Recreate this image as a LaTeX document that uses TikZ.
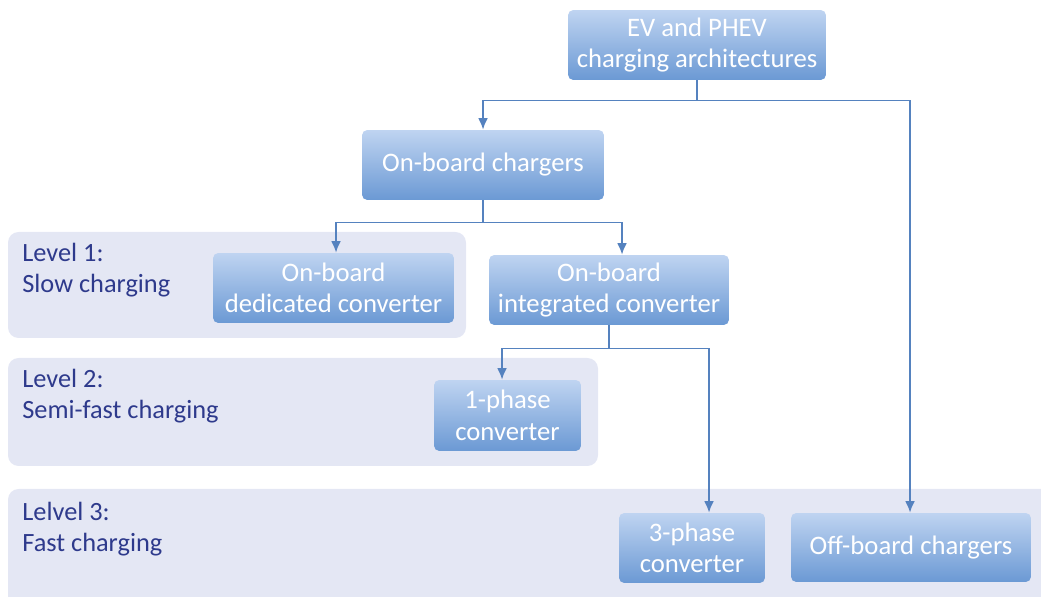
\documentclass[tikz,border=0pt]{standalone}
\usepackage{fontspec}
\setmainfont{Carlito}
\usetikzlibrary{arrows.meta}
\definecolor{boxtop}{HTML}{BFD4F1}
\definecolor{boxbot}{HTML}{6B99D4}
\definecolor{bandfill}{HTML}{E4E7F4}
\definecolor{linkcol}{HTML}{5582BF}
\definecolor{lvltext}{HTML}{2E3A8C}
\begin{document}
\begin{tikzpicture}[x=0.02cm,y=-0.02cm,
    chbox/.style={rounded corners=3pt, top color=boxtop, bottom color=boxbot, text=white,
        align=center, inner sep=0pt, font=\fontsize{15.2}{18}\selectfont},
    lvl/.style={anchor=west, align=left, text=lvltext, inner sep=0pt,
        font=\fontsize{15}{18}\selectfont},
    link/.style={draw=linkcol, line width=0.9pt, -{Latex[length=6.5pt,width=5.5pt]}}]
    	\useasboundingbox (0,0) rectangle (1041,597);
    	\clip (0,0) rectangle (1041,597);
    	
    	\fill[bandfill, rounded corners=6pt] (8,232) rectangle (466,338);
    	\fill[bandfill, rounded corners=6pt] (8,358) rectangle (598,466);
    	\fill[bandfill, rounded corners=6pt] (8,489) rectangle (1060,610);
    	
    	\node[lvl] (lvlA) at (22,270) {Level 1:\\Slow charging};
    	\node[lvl] (lvlB) at (22,396) {Level 2:\\Semi-fast charging};
    	\node[lvl] (lvlC) at (22,529) {Lelvel 3:\\Fast charging};
    	
    	\node[chbox, minimum width=5.16cm, minimum height=1.4cm] (arch) at (697,45) {EV and PHEV\\charging architectures};
    	\node[chbox, minimum width=4.84cm, minimum height=1.4cm] (onb) at (483,165) {On-board chargers};
    	\node[chbox, minimum width=4.82cm, minimum height=1.4cm] (ded) at (333.5,288) {On-board\\dedicated converter};
    	\node[chbox, minimum width=4.8cm, minimum height=1.4cm] (integ) at (609,290) {On-board\\integrated converter};
    	\node[chbox, minimum width=2.94cm, minimum height=1.42cm] (phA) at (507.5,415.5) {1-phase\\converter};
    	\node[chbox, minimum width=2.92cm, minimum height=1.4cm] (phC) at (692,548) {3-phase\\converter};
    	\node[chbox, minimum width=4.8cm, minimum height=1.38cm] (offb) at (911,547.5) {Off-board chargers};
    	
    	\draw[link] (arch.south) -- ++(0,20) -| (onb.north);
    	\draw[link] (arch.south) -- ++(0,20) -| ([xshift=-0.02cm]offb.north);
    	
    	\draw[link] (onb.south) -- ++(0,22) -| ([xshift=0.05cm]ded.north);
    	\draw[link] (onb.south) -- ++(0,22) -| ([xshift=0.26cm]integ.north);
    	
    	\draw[link] (integ.south) -- ++(0,23) -| ([xshift=-0.11cm]phA.north);
    	\draw[link] (integ.south) -- ++(0,23) -| ([xshift=0.34cm]phC.north);
    \end{tikzpicture}
\end{document}
